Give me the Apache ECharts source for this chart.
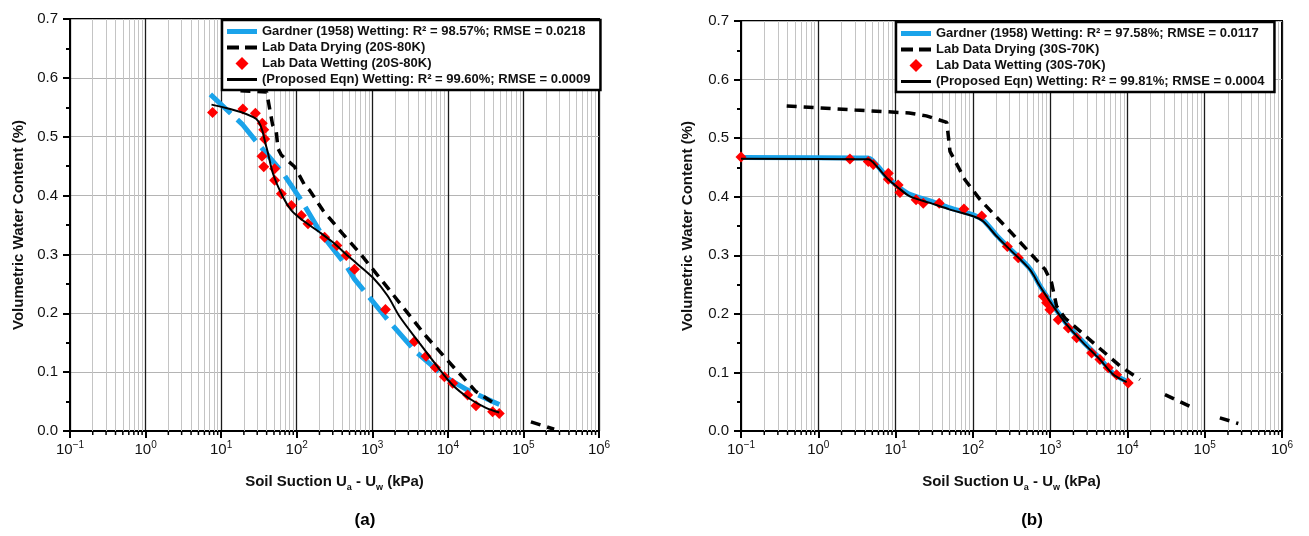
<!DOCTYPE html>
<html><head><meta charset="utf-8">
<script src="https://cdn.jsdelivr.net/npm/echarts@6/dist/echarts.min.js"></script>
<style>html,body{margin:0;padding:0;background:#fff}#c{width:1309px;height:536px}</style>
</head><body><div id="c"></div>
<script>
const FONT = '"Liberation Sans", Arial, Helvetica, sans-serif';

// ---- axis extents / decades ----
const xDecades = [0.1, 1, 10, 100, 1000, 10000, 100000, 1000000];
const yMin = 0, yMax = 0.7, yStep = 0.1;

// ---- Panel (a) : 20S-80K ----
const aNames = [
  'Gardner (1958) Wetting: R² = 98.57%; RMSE = 0.0218',
  'Lab Data Drying (20S-80K)',
  'Lab Data Wetting (20S-80K)',
  '(Proposed Eqn) Wetting: R² = 99.60%; RMSE = 0.0009'
];
const aGardner = [[7.2,0.572],[19.4,0.52],[27.8,0.495],[65.8,0.438],[115,0.392],[211,0.335],[452,0.281],[582,0.258],[1528,0.192],[3724,0.135],[9200,0.092],[18000,0.07],[39000,0.05],[48000,0.045]];
const aDrying = [[18,0.578],[40,0.576],[48,0.52],[53.6,0.509],[56.5,0.48],[62.5,0.469],[93.8,0.449],[127,0.418],[148,0.409],[222,0.375],[407,0.335],[676,0.303],[1652,0.241],[5150,0.161],[12200,0.107],[23560,0.067],[45500,0.043],null,[125600,0.0154],[255000,0.003]];
const aWetting = [[7.7,0.541],[19.4,0.547],[28.4,0.540],[35,0.523],[36.6,0.512],[37.7,0.496],[34.7,0.467],[36.6,0.449],[51,0.4455],[51,0.426],[62.7,0.403],[85,0.383],[115,0.366],[141,0.352],[234,0.329],[340,0.315],[452,0.298],[582,0.275],[1493,0.2065],[3607,0.152],[5150,0.127],[6840,0.108],[9000,0.092],[11590,0.081],[18280,0.061],[23560,0.043],[39100,0.0325],[47900,0.0296]];
const aProposed = [[7.45,0.5545],[29.2,0.530],[39.6,0.483],[48.5,0.4376],[65.8,0.3976],[85,0.375],[121,0.3577],[201,0.3377],[301,0.3206],[500,0.295],[1016,0.2607],[1603,0.2293],[2286,0.195],[4203,0.1494],[6980,0.1124],[11560,0.0782],[19220,0.0553],[31920,0.0394],[47900,0.0313]];

// ---- Panel (b) : 30S-70K ----
const bNames = [
  'Gardner (1958) Wetting: R² = 97.58%; RMSE = 0.0117',
  'Lab Data Drying (30S-70K)',
  'Lab Data Wetting (30S-70K)',
  '(Proposed Eqn) Wetting: R² = 99.81%; RMSE = 0.0004'
];
const bGardner = [[0.1,0.467],[4.4,0.466],[5.7,0.454],[7.7,0.434],[10.9,0.417],[15.3,0.404],[27.9,0.393],[50.6,0.381],[101,0.369],[136,0.36],[203,0.334],[302,0.311],[548,0.277],[738,0.248],[1096,0.214],[1633,0.183],[2680,0.152],[4406,0.124],[6550,0.098],[9770,0.085]];
const bDrying = [[0.39,0.555],[3,0.548],[15,0.543],[25,0.538],[46,0.527],[50.6,0.4775],[79,0.429],[124,0.395],[274,0.347],[577,0.301],[858,0.276],[1045,0.253],[1213,0.213],[1553,0.193],[3443,0.153],[8000,0.111],[14500,0.088],null,[30600,0.062],[64400,0.042],null,[157000,0.0225],[272000,0.0128]];
const bWetting = [[0.1,0.468],[2.57,0.4645],[4.43,0.46],[5.15,0.455],[8.05,0.44],[8.05,0.43],[10.8,0.42],[11.4,0.407],[18.4,0.395],[22.8,0.389],[36.7,0.389],[76.7,0.379],[130,0.367],[279,0.315],[386,0.296],[815,0.23],[901,0.219],[994,0.207],[1273,0.19],[1715,0.176],[2203,0.159],[3443,0.133],[4406,0.122],[5650,0.108],[7250,0.096],[10230,0.082]];
const bProposed = [[0.1,0.465],[4.4,0.464],[5.7,0.452],[7.7,0.432],[10.9,0.415],[15.3,0.4007],[27.9,0.3894],[50.6,0.378],[101,0.3666],[136,0.358],[203,0.3324],[302,0.3097],[548,0.2756],[738,0.247],[1096,0.213],[1633,0.1817],[2680,0.1505],[4406,0.122],[6550,0.0964],[9770,0.0833]];

// minor log gridline positions (2..9 x each decade)
const minorX = [];
for (let i = 0; i < xDecades.length - 1; i++) for (let k = 2; k < 10; k++) minorX.push(+(k * xDecades[i]).toPrecision(3));

const BLUE = '#1aa3ea';
const ICON_GARDNER = 'path://M0,0H30V5H0Z';
const ICON_DRYING = 'path://M0,0H12V4H0Z M18,0H30V4H18Z';
const ICON_WETTING = 'path://M6,0L12,6L6,12L0,6Z';
const ICON_PROPOSED = 'path://M0,0H30V3H0Z';

function xAxisCfg(gi) {
  return {
    type: 'log', logBase: 10, gridIndex: gi, min: xDecades[0], max: xDecades[xDecades.length - 1], splitNumber: 10,
    axisLine: { lineStyle: { color: '#000', width: 2 } },
    axisTick: { show: true, length: 7, lineStyle: { color: '#000', width: 2 } },
    splitLine: { show: true, lineStyle: { color: '#1a1a1a', width: 1.3 } },
    axisLabel: {
      margin: 9,
      formatter: v => { const e = Math.round(Math.log10(v)); return '{b|10}{s|' + (e < 0 ? '\u2212' + (-e) : e) + '}'; },
      rich: {
        b: { fontSize: 15, fontFamily: FONT, color: '#111', lineHeight: 20, verticalAlign: 'middle' },
        s: { fontSize: 10, fontFamily: FONT, color: '#111', lineHeight: 20, verticalAlign: 'top' }
      }
    },
    name: '{t|Soil Suction U}{s|a}{t| - U}{s|w}{t| (kPa)}',
    nameLocation: 'middle', nameGap: 41,
    nameTextStyle: {
      rich: {
        t: { fontSize: 15, fontWeight: 'bold', fontFamily: FONT, color: '#111', lineHeight: 20, verticalAlign: 'middle' },
        s: { fontSize: 9, fontWeight: 'bold', fontFamily: FONT, color: '#111', lineHeight: 20, verticalAlign: 'bottom' }
      }
    }
  };
}
function yAxisCfg(gi, gap) {
  return {
    type: 'value', gridIndex: gi, min: yMin, max: yMax, interval: yStep,
    axisLine: { show: true, lineStyle: { color: '#000', width: 2 } },
    axisTick: { show: true, length: 7, lineStyle: { color: '#000', width: 2 } },
    minorTick: { show: true, splitNumber: 2, length: 4, lineStyle: { color: '#000', width: 2 } },
    splitLine: { show: true, lineStyle: { color: '#b4b4b4', width: 1.2 } },
    axisLabel: { margin: 12, fontSize: 15, fontFamily: FONT, color: '#111', formatter: v => v.toFixed(1) },
    name: 'Volumetric Water Content (%)', nameLocation: 'middle', nameGap: gap,
    nameTextStyle: { fontSize: 15, fontWeight: 'bold', fontFamily: FONT, color: '#111' }
  };
}

function panelSeries(gi, names, gardner, drying, wetting, proposed, gardnerDash) {
  return [
    { type: 'line', xAxisIndex: gi, yAxisIndex: gi, data: [], silent: true, z: 1,
      markLine: { silent: true, z: 1, symbol: ['none', 'none'], label: { show: false }, animation: false,
        lineStyle: { color: '#c4c4c4', width: 1, type: 'solid' },
        data: minorX.map(v => ({ xAxis: v })) } },
    { type: 'custom', xAxisIndex: gi, yAxisIndex: gi, clip: false, silent: true, z: 3,
      data: minorX.map(v => [v, 0]),
      renderItem: (p, api) => { const c = api.coord([api.value(0), 0]);
        return { type: 'line', shape: { x1: c[0], y1: c[1], x2: c[0], y2: c[1] + 4 }, style: { stroke: '#000', lineWidth: 1.5 } }; } },
    { name: names[0], type: 'line', xAxisIndex: gi, yAxisIndex: gi, data: gardner, symbol: 'none', z: 4,
      smooth: gardnerDash === 'solid' ? 0.3 : false,
      lineStyle: { color: BLUE, width: 5, type: gardnerDash, cap: 'butt' }, itemStyle: { color: BLUE } },
    { name: names[1], type: 'line', xAxisIndex: gi, yAxisIndex: gi, data: drying, symbol: 'none', z: 5, connectNulls: false,
      lineStyle: { color: '#000', width: 3.5, type: [10, 7], cap: 'butt' }, itemStyle: { color: '#000' } },
    { name: names[2], type: 'scatter', xAxisIndex: gi, yAxisIndex: gi, data: wetting, symbol: 'diamond', symbolSize: 11, z: 6,
      itemStyle: { color: '#ff0000', opacity: 1 } },
    { name: names[3], type: 'line', xAxisIndex: gi, yAxisIndex: gi, data: proposed, symbol: 'none', z: 7, smooth: 0.3,
      lineStyle: { color: '#000', width: 2 }, itemStyle: { color: '#000' } }
  ];
}

function legendCfg(names, left, top) {
  return {
    data: [
      { name: names[0], icon: ICON_GARDNER },
      { name: names[1], icon: ICON_DRYING },
      { name: names[2], icon: ICON_WETTING },
      { name: names[3], icon: ICON_PROPOSED }
    ],
    orient: 'vertical', left: left, top: top, padding: [5, 10, 4, 5], z: 30,
    itemWidth: 30, itemHeight: 13, itemGap: 3,
    backgroundColor: '#fff', borderColor: '#000', borderWidth: 2.5, borderRadius: 0,
    selectedMode: false,
    textStyle: { fontSize: 13, fontWeight: 'bold', fontFamily: FONT, color: '#111' }
  };
}

const chart = echarts.init(document.getElementById('c'), null, { renderer: 'canvas' });
chart.setOption({
  animation: false,
  backgroundColor: '#fff',
  grid: [
    { left: 70, top: 19, width: 529, height: 412, show: true, borderColor: '#000', borderWidth: 2, backgroundColor: 'transparent' },
    { left: 741, top: 21, width: 541, height: 410, show: true, borderColor: '#000', borderWidth: 2, backgroundColor: 'transparent' }
  ],
  xAxis: [xAxisCfg(0), xAxisCfg(1)],
  yAxis: [yAxisCfg(0, 44), yAxisCfg(1, 46)],
  legend: [legendCfg(aNames, 222, 20), legendCfg(bNames, 896, 22)],
  series: [
    ...panelSeries(0, aNames, aGardner, aDrying, aWetting, aProposed, [28, 9]),
    ...panelSeries(1, bNames, bGardner, bDrying, bWetting, bProposed, 'solid')
  ],
  graphic: [
    { type: 'text', x: 365, y: 520, style: { text: '(a)', fontSize: 17, fontWeight: 'bold', fontFamily: FONT, fill: '#000', align: 'center', verticalAlign: 'middle' } },
    { type: 'text', x: 1032, y: 520, style: { text: '(b)', fontSize: 17, fontWeight: 'bold', fontFamily: FONT, fill: '#000', align: 'center', verticalAlign: 'middle' } }
  ]
});
</script></body></html>
